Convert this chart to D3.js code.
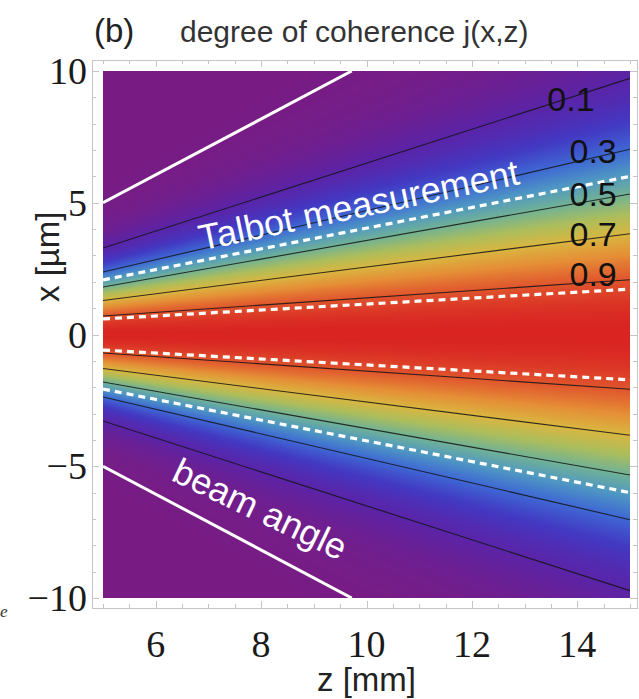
<!DOCTYPE html>
<html>
<head>
<meta charset="utf-8">
<script src="https://cdn.jsdelivr.net/npm/d3@7"></script>
<style>
  html, body { margin: 0; padding: 0; background: #fff; }
  svg { display: block; }
</style>
</head>
<body>
<svg id="chart" width="639" height="699"></svg>
<script>
// ---- data ----------------------------------------------------------
const zDomain = [5, 15];          // propagation distance z [mm]
const xDomain = [-10, 10];        // transverse position x [µm]
const zTicks = [6, 8, 10, 12, 14];
const xTicks = [-10, -5, 0, 5, 10];
const zMinor = d3.range(5, 15.01, 0.5);
const xMinor = d3.range(-10, 10.01, 1);

// Gaussian coherence width sigma(z) [µm] at the two ends of the z range
const sigmaZ = [5, 15];
const sigmaVal = [1.53, 4.53];

// contour levels of j(x,z)
const levels = [0.1, 0.3, 0.5, 0.7, 0.9];
const levelLabels = ["0.1", "0.3", "0.5", "0.7", "0.9"];

// Talbot measurement boundaries: |x| [µm] at z = 5 and z = 15
const talbotZ = [5, 15];
const talbotInner = [0.59, 1.72];
const talbotOuter = [2.07, 6.0];

// beam angle: |x| [µm] versus z [mm]
const beamZ = [5, 9.72];
const beamX = [5, 10];

// colour gradient for j from 0 to 1
const colorDomain = [0, 0.1, 0.2, 0.3, 0.4, 0.5, 0.6, 0.7, 0.8, 0.9, 1.0];
const colorRange = ["#781c84", "#5a24a8", "#4338c2", "#3e68d4", "#4f98c2",
                    "#72b294", "#abbd5c", "#d9b640", "#e58e36", "#e0552d", "#d92422"];

// ---- layout --------------------------------------------------------
const plot = { left: 103, right: 630, top: 71, bottom: 598 };
const frame = { left: 92, right: 637, top: 60, bottom: 608 };

const svg = d3.select("#chart");
const zScale = d3.scaleLinear().domain(zDomain).range([plot.left, plot.right]);
const xScale = d3.scaleLinear().domain(xDomain).range([plot.bottom, plot.top]);
const sigma = d3.scaleLinear().domain(sigmaZ).range(sigmaVal);
const color = d3.scaleLinear().domain(colorDomain).range(colorRange)
  .interpolate(d3.interpolateRgb).clamp(true);

const coherence = (z, x) => { const s = sigma(z); return Math.exp(-x * x / (2 * s * s)); };

// ---- density image -------------------------------------------------
const W = plot.right - plot.left, H = plot.bottom - plot.top;
const cv = document.createElement("canvas");
cv.width = W; cv.height = H;
const ctx = cv.getContext("2d");
const img = ctx.createImageData(W, H);
for (let py = 0; py < H; py++) {
  const x = xScale.invert(plot.top + py + 0.5);
  for (let px = 0; px < W; px++) {
    const z = zScale.invert(plot.left + px + 0.5);
    const c = d3.rgb(color(coherence(z, x)));
    const k = 4 * (py * W + px);
    img.data[k] = c.r; img.data[k + 1] = c.g; img.data[k + 2] = c.b; img.data[k + 3] = 255;
  }
}
ctx.putImageData(img, 0, 0);

svg.append("image")
  .attr("x", plot.left).attr("y", plot.top)
  .attr("width", W).attr("height", H)
  .attr("preserveAspectRatio", "none")
  .attr("href", cv.toDataURL());

svg.append("clipPath").attr("id", "clip")
  .append("rect").attr("x", plot.left).attr("y", plot.top).attr("width", W).attr("height", H);

const g = svg.append("g").attr("clip-path", "url(#clip)");
const line = d3.line().x(d => zScale(d[0])).y(d => xScale(d[1]));

// contour lines
levels.forEach(c => {
  const k = Math.sqrt(-2 * Math.log(c));
  [1, -1].forEach(s => {
    g.append("path")
      .attr("d", line(sigmaZ.map((z, i) => [z, s * k * sigmaVal[i]])))
      .attr("fill", "none").attr("stroke", "#141414").attr("stroke-width", 1.1)
      .attr("stroke-opacity", 0.85);
  });
});

// Talbot measurement boundaries
[talbotInner, talbotOuter].forEach(arr => {
  [1, -1].forEach(s => {
    g.append("path")
      .attr("d", line(talbotZ.map((z, i) => [z, s * arr[i]])))
      .attr("fill", "none").attr("stroke", "#fff").attr("stroke-width", 3.2)
      .attr("stroke-dasharray", "7,5");
  });
});

// beam angle
[1, -1].forEach(s => {
  g.append("path")
    .attr("d", line(beamZ.map((z, i) => [z, s * beamX[i]])))
    .attr("fill", "none").attr("stroke", "#fff").attr("stroke-width", 3);
});

// contour labels
const labelZ = [13.88, 14.3, 14.3, 14.3, 14.3];
const labelX = [8.95, 6.95, 5.35, 3.83, 2.3];
levels.forEach((c, i) => {
  svg.append("text")
    .attr("x", zScale(labelZ[i])).attr("y", xScale(labelX[i]))
    .attr("text-anchor", "middle").attr("dominant-baseline", "central")
    .attr("font-family", "Liberation Sans, Arial, sans-serif")
    .attr("font-size", 34).attr("fill", "#111")
    .text(levelLabels[i]);
});

// annotations
svg.append("text")
  .attr("transform", `translate(${zScale(9.9)},${xScale(4.45)}) rotate(-11.8)`)
  .attr("text-anchor", "middle")
  .attr("font-family", "Liberation Sans, Arial, sans-serif")
  .attr("font-size", 36).attr("fill", "#fff")
  .text("Talbot measurement");

svg.append("text")
  .attr("transform", `translate(${zScale(7.88)},${xScale(-7.05)}) rotate(25.5)`)
  .attr("text-anchor", "middle")
  .attr("font-family", "Liberation Sans, Arial, sans-serif")
  .attr("font-size", 36).attr("fill", "#fff")
  .text("beam angle");

// ---- frame and ticks ----------------------------------------------
const fr = svg.append("g").attr("stroke", "#c4c4c4").attr("stroke-width", 1).attr("fill", "none");
fr.append("rect")
  .attr("x", frame.left + 0.5).attr("y", frame.top + 0.5)
  .attr("width", frame.right - frame.left).attr("height", frame.bottom - frame.top);

zMinor.forEach(z => {
  const major = zTicks.includes(z);
  const L = major ? 7 : 4;
  const px = Math.round(zScale(z)) + 0.5;
  fr.append("line").attr("x1", px).attr("x2", px).attr("y1", frame.bottom).attr("y2", frame.bottom - L);
  fr.append("line").attr("x1", px).attr("x2", px).attr("y1", frame.top).attr("y2", frame.top + L);
});
xMinor.forEach(x => {
  const major = xTicks.includes(x);
  const L = major ? 7 : 4;
  const py = Math.round(xScale(x)) + 0.5;
  fr.append("line").attr("y1", py).attr("y2", py).attr("x1", frame.left).attr("x2", frame.left + L);
  fr.append("line").attr("y1", py).attr("y2", py).attr("x1", frame.right).attr("x2", frame.right - L);
});

// tick labels
svg.append("g").selectAll("text").data(zTicks).join("text")
  .attr("x", d => zScale(d)).attr("y", 657)
  .attr("text-anchor", "middle")
  .attr("font-family", "Liberation Serif, Times New Roman, serif")
  .attr("font-size", 38).attr("fill", "#1a1a1a")
  .text(d => d);

svg.append("g").selectAll("text").data(xTicks).join("text")
  .attr("x", 87).attr("y", d => xScale(d))
  .attr("text-anchor", "end").attr("dominant-baseline", "central")
  .attr("font-family", "Liberation Serif, Times New Roman, serif")
  .attr("font-size", 38).attr("fill", "#1a1a1a")
  .text(d => d < 0 ? "\u2212" + Math.abs(d) : d);

// axis titles
svg.append("text")
  .attr("x", zScale(10)).attr("y", 691)
  .attr("text-anchor", "middle")
  .attr("font-family", "Liberation Sans, Arial, sans-serif")
  .attr("font-size", 33).attr("fill", "#222")
  .text("z [mm]");

svg.append("text")
  .attr("transform", `translate(59,${xScale(2.95)}) rotate(-90)`)
  .attr("text-anchor", "middle")
  .attr("font-family", "Liberation Sans, Arial, sans-serif")
  .attr("font-size", 33).attr("fill", "#222")
  .text("x [\u00b5m]");

// panel title
svg.append("text")
  .attr("x", 94).attr("y", 42)
  .attr("font-family", "Liberation Sans, Arial, sans-serif")
  .attr("font-size", 33).attr("fill", "#222")
  .text("(b)");
svg.append("text")
  .attr("x", 180).attr("y", 42)
  .attr("font-family", "Liberation Sans, Arial, sans-serif")
  .attr("font-size", 30).attr("fill", "#333")
  .text("degree of coherence j(x,z)");

// stray subscript at the left border
svg.append("text")
  .attr("x", 0).attr("y", 617)
  .attr("font-family", "Liberation Serif, serif").attr("font-style", "italic")
  .attr("font-size", 17).attr("fill", "#333")
  .text("e");
</script>
</body>
</html>
